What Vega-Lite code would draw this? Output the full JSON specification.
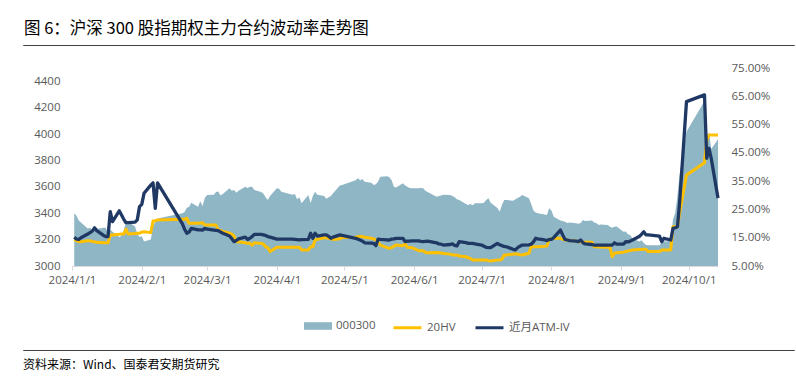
{
  "$schema": "https://vega.github.io/schema/vega-lite/v6.json",
  "background": "white",
  "padding": {"left": 22, "top": 20, "right": 2, "bottom": 0},
  "config": {"view": {"stroke": null}, "font": "Open Sans"},
  "datasets": {
    "main": [
      {"date":"2024-01-02","idx":3399,"hv":14.4,"iv":15.2},
      {"date":"2024-01-03","idx":3380,"hv":14.0,"iv":14.5},
      {"date":"2024-01-04","idx":3345,"hv":13.6,"iv":14.4},
      {"date":"2024-01-05","idx":3330,"hv":13.6,"iv":15.0},
      {"date":"2024-01-08","idx":3285,"hv":13.9,"iv":16.3},
      {"date":"2024-01-09","idx":3290,"hv":13.9,"iv":16.8},
      {"date":"2024-01-10","idx":3272,"hv":13.7,"iv":17.3},
      {"date":"2024-01-11","idx":3285,"hv":13.6,"iv":18.5},
      {"date":"2024-01-12","idx":3280,"hv":13.4,"iv":17.5},
      {"date":"2024-01-15","idx":3290,"hv":13.2,"iv":15.8},
      {"date":"2024-01-16","idx":3290,"hv":13.2,"iv":15.4},
      {"date":"2024-01-17","idx":3245,"hv":13.2,"iv":15.4},
      {"date":"2024-01-18","idx":3275,"hv":16.0,"iv":24.2},
      {"date":"2024-01-19","idx":3260,"hv":16.0,"iv":20.7},
      {"date":"2024-01-22","idx":3220,"hv":16.2,"iv":24.5},
      {"date":"2024-01-23","idx":3230,"hv":16.3,"iv":23.0},
      {"date":"2024-01-24","idx":3272,"hv":16.3,"iv":21.5},
      {"date":"2024-01-25","idx":3330,"hv":18.0,"iv":20.3},
      {"date":"2024-01-26","idx":3335,"hv":16.3,"iv":20.3},
      {"date":"2024-01-29","idx":3300,"hv":16.5,"iv":20.5},
      {"date":"2024-01-30","idx":3245,"hv":16.6,"iv":21.3},
      {"date":"2024-01-31","idx":3220,"hv":16.6,"iv":26.0},
      {"date":"2024-02-01","idx":3225,"hv":17.0,"iv":26.8},
      {"date":"2024-02-02","idx":3185,"hv":17.1,"iv":30.7},
      {"date":"2024-02-05","idx":3200,"hv":16.8,"iv":33.6},
      {"date":"2024-02-06","idx":3300,"hv":20.9,"iv":34.4},
      {"date":"2024-02-07","idx":3335,"hv":21.0,"iv":25.4},
      {"date":"2024-02-08","idx":3360,"hv":21.3,"iv":34.4},
      {"date":"2024-02-19","idx":3400,"hv":21.5,"iv":20.0},
      {"date":"2024-02-20","idx":3410,"hv":21.5,"iv":18.0},
      {"date":"2024-02-21","idx":3442,"hv":21.9,"iv":16.6},
      {"date":"2024-02-22","idx":3447,"hv":20.1,"iv":17.0},
      {"date":"2024-02-23","idx":3480,"hv":20.1,"iv":18.3},
      {"date":"2024-02-26","idx":3449,"hv":20.1,"iv":17.8},
      {"date":"2024-02-27","idx":3490,"hv":20.2,"iv":17.8},
      {"date":"2024-02-28","idx":3455,"hv":20.3,"iv":17.7},
      {"date":"2024-02-29","idx":3515,"hv":19.5,"iv":18.3},
      {"date":"2024-03-01","idx":3538,"hv":19.5,"iv":18.0},
      {"date":"2024-03-04","idx":3540,"hv":19.5,"iv":17.7},
      {"date":"2024-03-05","idx":3560,"hv":19.5,"iv":17.6},
      {"date":"2024-03-06","idx":3565,"hv":17.7,"iv":17.5},
      {"date":"2024-03-07","idx":3535,"hv":17.5,"iv":17.0},
      {"date":"2024-03-08","idx":3545,"hv":17.2,"iv":16.6},
      {"date":"2024-03-11","idx":3589,"hv":16.6,"iv":15.6},
      {"date":"2024-03-12","idx":3570,"hv":16.2,"iv":14.6},
      {"date":"2024-03-13","idx":3575,"hv":15.6,"iv":13.6},
      {"date":"2024-03-14","idx":3555,"hv":13.6,"iv":14.0},
      {"date":"2024-03-15","idx":3570,"hv":13.6,"iv":14.6},
      {"date":"2024-03-18","idx":3601,"hv":13.2,"iv":15.2},
      {"date":"2024-03-19","idx":3590,"hv":13.0,"iv":14.4},
      {"date":"2024-03-20","idx":3600,"hv":13.0,"iv":14.8},
      {"date":"2024-03-21","idx":3601,"hv":12.4,"iv":15.4},
      {"date":"2024-03-22","idx":3576,"hv":13.2,"iv":16.2},
      {"date":"2024-03-25","idx":3560,"hv":13.0,"iv":16.2},
      {"date":"2024-03-26","idx":3550,"hv":12.8,"iv":16.0},
      {"date":"2024-03-27","idx":3520,"hv":11.8,"iv":15.8},
      {"date":"2024-03-28","idx":3500,"hv":11.5,"iv":15.4},
      {"date":"2024-03-29","idx":3530,"hv":10.1,"iv":15.2},
      {"date":"2024-04-01","idx":3589,"hv":11.6,"iv":14.5},
      {"date":"2024-04-02","idx":3585,"hv":11.6,"iv":14.5},
      {"date":"2024-04-03","idx":3563,"hv":11.6,"iv":14.5},
      {"date":"2024-04-08","idx":3540,"hv":11.6,"iv":14.5},
      {"date":"2024-04-09","idx":3545,"hv":11.6,"iv":14.4},
      {"date":"2024-04-10","idx":3505,"hv":11.6,"iv":14.3},
      {"date":"2024-04-11","idx":3520,"hv":11.6,"iv":14.2},
      {"date":"2024-04-12","idx":3475,"hv":10.7,"iv":14.3},
      {"date":"2024-04-15","idx":3538,"hv":10.7,"iv":14.4},
      {"date":"2024-04-16","idx":3477,"hv":11.8,"iv":16.6},
      {"date":"2024-04-17","idx":3530,"hv":11.8,"iv":14.8},
      {"date":"2024-04-18","idx":3563,"hv":14.2,"iv":16.6},
      {"date":"2024-04-19","idx":3540,"hv":14.4,"iv":15.6},
      {"date":"2024-04-22","idx":3530,"hv":15.0,"iv":16.0},
      {"date":"2024-04-23","idx":3510,"hv":15.0,"iv":16.0},
      {"date":"2024-04-24","idx":3520,"hv":14.8,"iv":15.5},
      {"date":"2024-04-25","idx":3530,"hv":14.6,"iv":14.8},
      {"date":"2024-04-26","idx":3551,"hv":14.4,"iv":15.2},
      {"date":"2024-04-29","idx":3610,"hv":14.6,"iv":16.0},
      {"date":"2024-04-30","idx":3614,"hv":15.1,"iv":15.8},
      {"date":"2024-05-06","idx":3650,"hv":15.2,"iv":14.8},
      {"date":"2024-05-07","idx":3665,"hv":15.4,"iv":14.5},
      {"date":"2024-05-08","idx":3650,"hv":15.4,"iv":14.2},
      {"date":"2024-05-09","idx":3660,"hv":15.4,"iv":13.8},
      {"date":"2024-05-10","idx":3639,"hv":15.2,"iv":13.2},
      {"date":"2024-05-13","idx":3630,"hv":14.8,"iv":13.1},
      {"date":"2024-05-14","idx":3614,"hv":14.6,"iv":13.0},
      {"date":"2024-05-15","idx":3620,"hv":14.2,"iv":12.2},
      {"date":"2024-05-16","idx":3640,"hv":13.4,"iv":14.5},
      {"date":"2024-05-17","idx":3677,"hv":12.4,"iv":14.4},
      {"date":"2024-05-20","idx":3680,"hv":11.5,"iv":14.2},
      {"date":"2024-05-21","idx":3673,"hv":11.2,"iv":14.2},
      {"date":"2024-05-22","idx":3650,"hv":11.5,"iv":14.5},
      {"date":"2024-05-23","idx":3601,"hv":12.0,"iv":14.6},
      {"date":"2024-05-24","idx":3595,"hv":12.4,"iv":14.8},
      {"date":"2024-05-27","idx":3627,"hv":12.2,"iv":14.8},
      {"date":"2024-05-28","idx":3610,"hv":12.8,"iv":13.6},
      {"date":"2024-05-29","idx":3600,"hv":11.6,"iv":13.8},
      {"date":"2024-05-30","idx":3590,"hv":11.5,"iv":13.8},
      {"date":"2024-05-31","idx":3589,"hv":11.5,"iv":13.9},
      {"date":"2024-06-03","idx":3589,"hv":10.4,"iv":13.9},
      {"date":"2024-06-04","idx":3590,"hv":10.4,"iv":13.7},
      {"date":"2024-06-05","idx":3589,"hv":10.4,"iv":13.6},
      {"date":"2024-06-06","idx":3570,"hv":9.8,"iv":13.7},
      {"date":"2024-06-07","idx":3560,"hv":9.7,"iv":13.8},
      {"date":"2024-06-11","idx":3525,"hv":9.8,"iv":13.2},
      {"date":"2024-06-12","idx":3530,"hv":9.7,"iv":12.8},
      {"date":"2024-06-13","idx":3535,"hv":9.6,"iv":12.7},
      {"date":"2024-06-14","idx":3540,"hv":9.4,"iv":12.4},
      {"date":"2024-06-17","idx":3538,"hv":9.2,"iv":12.6},
      {"date":"2024-06-18","idx":3530,"hv":8.9,"iv":12.8},
      {"date":"2024-06-19","idx":3520,"hv":8.9,"iv":12.3},
      {"date":"2024-06-20","idx":3505,"hv":8.9,"iv":12.1},
      {"date":"2024-06-21","idx":3500,"hv":8.5,"iv":13.6},
      {"date":"2024-06-24","idx":3470,"hv":8.3,"iv":13.3},
      {"date":"2024-06-25","idx":3462,"hv":7.9,"iv":13.0},
      {"date":"2024-06-26","idx":3470,"hv":7.7,"iv":13.0},
      {"date":"2024-06-27","idx":3460,"hv":7.1,"iv":13.0},
      {"date":"2024-06-28","idx":3475,"hv":7.1,"iv":12.8},
      {"date":"2024-07-01","idx":3475,"hv":7.1,"iv":12.4},
      {"date":"2024-07-02","idx":3480,"hv":7.1,"iv":12.0},
      {"date":"2024-07-03","idx":3500,"hv":7.1,"iv":11.6},
      {"date":"2024-07-04","idx":3513,"hv":6.9,"iv":11.5},
      {"date":"2024-07-05","idx":3480,"hv":6.8,"iv":11.5},
      {"date":"2024-07-08","idx":3440,"hv":7.1,"iv":13.0},
      {"date":"2024-07-09","idx":3411,"hv":7.1,"iv":12.5},
      {"date":"2024-07-10","idx":3462,"hv":7.4,"iv":12.2},
      {"date":"2024-07-11","idx":3500,"hv":8.9,"iv":11.9},
      {"date":"2024-07-12","idx":3500,"hv":8.9,"iv":11.8},
      {"date":"2024-07-15","idx":3495,"hv":9.2,"iv":10.9},
      {"date":"2024-07-16","idx":3505,"hv":9.2,"iv":10.7},
      {"date":"2024-07-17","idx":3515,"hv":9.2,"iv":11.5},
      {"date":"2024-07-18","idx":3525,"hv":9.0,"iv":12.0},
      {"date":"2024-07-19","idx":3538,"hv":8.9,"iv":12.4},
      {"date":"2024-07-22","idx":3513,"hv":9.5,"iv":12.5},
      {"date":"2024-07-23","idx":3470,"hv":11.8,"iv":12.7},
      {"date":"2024-07-24","idx":3420,"hv":11.8,"iv":13.5},
      {"date":"2024-07-25","idx":3405,"hv":11.8,"iv":14.8},
      {"date":"2024-07-26","idx":3400,"hv":11.8,"iv":14.6},
      {"date":"2024-07-29","idx":3390,"hv":12.0,"iv":14.2},
      {"date":"2024-07-30","idx":3386,"hv":12.1,"iv":14.0},
      {"date":"2024-07-31","idx":3437,"hv":14.5,"iv":14.4},
      {"date":"2024-08-01","idx":3420,"hv":14.6,"iv":14.4},
      {"date":"2024-08-02","idx":3373,"hv":14.8,"iv":15.0},
      {"date":"2024-08-05","idx":3345,"hv":14.8,"iv":17.7},
      {"date":"2024-08-06","idx":3340,"hv":14.5,"iv":16.0},
      {"date":"2024-08-07","idx":3335,"hv":14.2,"iv":14.4},
      {"date":"2024-08-08","idx":3325,"hv":14.2,"iv":14.2},
      {"date":"2024-08-09","idx":3330,"hv":14.0,"iv":14.0},
      {"date":"2024-08-12","idx":3323,"hv":13.8,"iv":13.8},
      {"date":"2024-08-13","idx":3320,"hv":13.6,"iv":13.6},
      {"date":"2024-08-14","idx":3325,"hv":13.6,"iv":14.2},
      {"date":"2024-08-15","idx":3348,"hv":13.5,"iv":13.2},
      {"date":"2024-08-16","idx":3340,"hv":13.4,"iv":12.8},
      {"date":"2024-08-19","idx":3345,"hv":13.4,"iv":12.6},
      {"date":"2024-08-20","idx":3330,"hv":11.8,"iv":12.4},
      {"date":"2024-08-21","idx":3323,"hv":11.8,"iv":12.4},
      {"date":"2024-08-22","idx":3310,"hv":11.7,"iv":12.4},
      {"date":"2024-08-23","idx":3315,"hv":11.7,"iv":12.4},
      {"date":"2024-08-26","idx":3310,"hv":11.6,"iv":12.4},
      {"date":"2024-08-27","idx":3297,"hv":11.6,"iv":12.4},
      {"date":"2024-08-28","idx":3290,"hv":8.3,"iv":12.4},
      {"date":"2024-08-29","idx":3297,"hv":9.5,"iv":13.2},
      {"date":"2024-08-30","idx":3300,"hv":9.7,"iv":12.7},
      {"date":"2024-09-02","idx":3259,"hv":9.9,"iv":12.7},
      {"date":"2024-09-03","idx":3262,"hv":10.1,"iv":13.6},
      {"date":"2024-09-04","idx":3240,"hv":10.3,"iv":13.5},
      {"date":"2024-09-05","idx":3235,"hv":10.5,"iv":13.8},
      {"date":"2024-09-06","idx":3208,"hv":10.7,"iv":14.2},
      {"date":"2024-09-09","idx":3185,"hv":10.8,"iv":15.4},
      {"date":"2024-09-10","idx":3196,"hv":10.8,"iv":16.2},
      {"date":"2024-09-11","idx":3175,"hv":10.9,"iv":17.1},
      {"date":"2024-09-12","idx":3160,"hv":10.9,"iv":16.0},
      {"date":"2024-09-13","idx":3157,"hv":10.1,"iv":16.0},
      {"date":"2024-09-18","idx":3157,"hv":10.1,"iv":15.6},
      {"date":"2024-09-19","idx":3180,"hv":10.7,"iv":13.6},
      {"date":"2024-09-20","idx":3185,"hv":10.7,"iv":14.8},
      {"date":"2024-09-23","idx":3190,"hv":10.7,"iv":14.2},
      {"date":"2024-09-24","idx":3353,"hv":18.9,"iv":18.3},
      {"date":"2024-09-25","idx":3401,"hv":18.9,"iv":18.5},
      {"date":"2024-09-26","idx":3532,"hv":18.9,"iv":18.9},
      {"date":"2024-09-27","idx":3703,"hv":24.0,"iv":28.0},
      {"date":"2024-09-30","idx":4017,"hv":37.2,"iv":63.1},
      {"date":"2024-10-08","idx":4250,"hv":41.5,"iv":65.5},
      {"date":"2024-10-09","idx":3955,"hv":49.5,"iv":43.1},
      {"date":"2024-10-10","idx":4015,"hv":51.3,"iv":46.6},
      {"date":"2024-10-11","idx":3887,"hv":51.3,"iv":43.0},
      {"date":"2024-10-14","idx":3960,"hv":51.3,"iv":29.0}
    ]
  },
  "spacing": 60,
  "vconcat": [
    {
      "spacing": 13,
      "vconcat": [
        {
          "width": 771,
          "height": 0.01,
          "view": {"stroke": "#404040", "strokeWidth": 1},
          "title": {"text": "图 6：沪深 300 股指期权主力合约波动率走势图", "anchor": "start", "font": "Noto Sans CJK SC", "fontSize": 16.5, "fontWeight": "normal", "color": "#000000", "offset": 5, "dx": 1},
          "data": {"values": [{}]},
          "mark": {"type": "point", "opacity": 0}
        },
        {
          "spacing": 0,
          "hconcat": [
            {
              "width": 10,
              "height": 198,
              "data": {"values": [{}]},
              "mark": {"type": "point", "opacity": 0}
            },
            {
              "width": 646,
              "height": 198,
              "data": {"name": "main"},
              "resolve": {"scale": {"y": "independent"}},
              "layer": [
                {
                  "mark": {"type": "area", "clip": true},
                  "encoding": {
                    "x": {
                      "field": "date", "type": "temporal", "title": null,
                      "scale": {"type": "utc", "domain": [{"year": 2024, "month": 1, "date": 1, "utc": true}, {"year": 2024, "month": 10, "date": 14, "utc": true}]},
                      "axis": {"orient": "bottom", "tickCount": {"interval": "month", "step": 1}, "format": "%Y/%-m/%-d", "domainColor": "#D9D9D9", "tickColor": "#D9D9D9", "tickSize": 4, "labelPadding": 4, "labelFontSize": 11.5, "labelColor": "#595959", "grid": false, "title": null, "labelFlush": false, "labelOverlap": false}
                    },
                    "y": {
                      "field": "idx", "type": "quantitative", "title": null,
                      "scale": {"domain": [3000, 4500], "zero": false, "nice": false},
                      "axis": {"orient": "left", "values": [3000, 3200, 3400, 3600, 3800, 4000, 4200, 4400], "format": "d", "domain": false, "ticks": false, "grid": false, "labelPadding": 12, "labelFontSize": 11.5, "labelColor": "#595959", "title": null}
                    },
                    "y2": {"datum": 3000},
                    "fill": {
                      "datum": "000300", "type": "nominal",
                      "scale": {"domain": ["000300"], "range": ["#8FB6C5"]},
                      "legend": {"orient": "none", "legendX": 281, "legendY": 267, "direction": "horizontal", "title": null, "padding": 0, "symbolType": "M-1,-0.27H1V0.27H-1Z", "symbolSize": 784, "symbolFillColor": "#8FB6C5", "symbolOpacity": 1, "symbolStrokeWidth": 0, "labelFontSize": 11.5, "labelColor": "#595959", "labelOffset": 4, "labelFont": "Open Sans"}
                    }
                  }
                },
                {
                  "layer": [
                    {
                      "mark": {"type": "line", "strokeWidth": 3, "strokeJoin": "round"},
                      "encoding": {
                        "x": {"field": "date", "type": "temporal", "title": null},
                        "y": {
                          "field": "hv", "type": "quantitative", "title": null,
                          "scale": {"domain": [5, 75], "zero": false, "nice": false},
                          "axis": {"orient": "right", "values": [5, 15, 25, 35, 45, 55, 65, 75], "labelExpr": "format(datum.value, '.2f') + '%'", "domain": false, "ticks": false, "grid": false, "labelPadding": 13, "labelFontSize": 11.5, "labelColor": "#595959", "title": null}
                        },
                        "stroke": {
                          "datum": "20HV", "type": "nominal",
                          "scale": {"domain": ["20HV", "近月ATM-IV"], "range": ["#FFC000", "#1F3864"]},
                          "legend": {"orient": "none", "legendX": 369, "legendY": 267, "direction": "horizontal", "columnPadding": 13, "title": null, "padding": 0, "symbolType": "stroke", "symbolSize": 784, "symbolStrokeWidth": 3, "labelFontSize": 11.5, "labelColor": "#595959", "labelOffset": 4, "labelFont": "Open Sans, Noto Sans CJK SC"}
                        }
                      }
                    },
                    {
                      "mark": {"type": "line", "strokeWidth": 3.3, "strokeJoin": "round"},
                      "encoding": {
                        "x": {"field": "date", "type": "temporal", "title": null},
                        "y": {
                          "field": "iv", "type": "quantitative", "title": null,
                          "axis": {"orient": "right", "values": [5, 15, 25, 35, 45, 55, 65, 75], "labelExpr": "format(datum.value, '.2f') + '%'", "domain": false, "ticks": false, "grid": false, "labelPadding": 13, "labelFontSize": 11.5, "labelColor": "#595959", "title": null}
                        },
                        "stroke": {"datum": "近月ATM-IV", "type": "nominal"}
                      }
                    }
                  ]
                }
              ]
            }
          ]
        }
      ]
    },
    {
      "width": 771,
      "height": 0.01,
      "view": {"stroke": "#404040", "strokeWidth": 1},
      "title": {"text": "资料来源：Wind、国泰君安期货研究", "orient": "bottom", "anchor": "start", "font": "Noto Sans CJK SC", "fontSize": 12, "fontWeight": "normal", "color": "#000000", "offset": 7},
      "data": {"values": [{}]},
      "mark": {"type": "point", "opacity": 0}
    }
  ]
}
